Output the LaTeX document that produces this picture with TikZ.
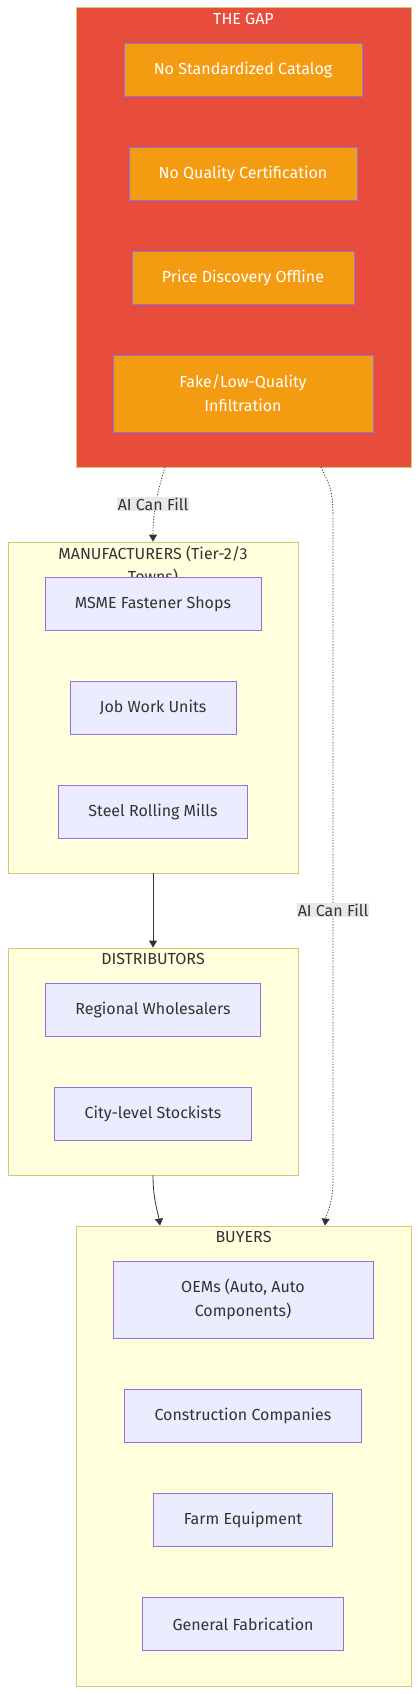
\documentclass[tikz,border=0pt]{standalone}
\usepackage{fontspec}
\setmainfont{Fira Sans}
\usetikzlibrary{arrows.meta}

\definecolor{gapred}{HTML}{E74C3C}
\definecolor{gaporange}{HTML}{F39C12}
\definecolor{clusterfill}{HTML}{FFFFDE}
\definecolor{clusterline}{HTML}{CFCB6E}
\definecolor{boxfill}{HTML}{ECECFF}
\definecolor{boxline}{HTML}{9370DB}
\definecolor{textgray}{HTML}{333333}
\definecolor{labelbg}{HTML}{E8E8E8}

\tikzset{
    cluster/.style={draw=clusterline, line width=0.8pt, fill=clusterfill, inner sep=0pt},
    clustertitle/.style={text=textgray, font=\fontsize{16}{23}\selectfont, align=center},
    item/.style={draw=boxline, line width=0.8pt, fill=boxfill, text=textgray,
        font=\fontsize{16}{24}\selectfont, align=center, minimum height=53pt, inner sep=0pt},
    gapitem/.style={item, fill=gaporange, text=white},
    flow/.style={draw=textgray, line width=0.8pt, -{Triangle[length=7pt,width=8pt]}},
    dots/.style={dash pattern=on 1.2pt off 1.6pt},
    fill label/.style={fill=labelbg, text=textgray, font=\fontsize{16}{18}\selectfont,
        inner sep=1pt}
}

\begin{document}
\begin{tikzpicture}[x=1pt, y=-1pt]

    \useasboundingbox (0, 0) rectangle (419, 1694);

    % Draw the four groups
    \node[cluster, fill=gapred, minimum width=335pt, minimum height=460pt] (gap) at (243.5, 237) {};
    \node[cluster, minimum width=290pt, minimum height=331pt] (mfr) at (153, 707.5) {};
    \node[cluster, minimum width=290pt, minimum height=227pt] (dist) at (153, 1061.5) {};
    \node[cluster, minimum width=335pt, minimum height=460pt] (buy) at (243.5, 1456) {};

    % Group titles
    \node[clustertitle, text=white] (gaptitle) at (243.5, 19) {THE GAP};
    \node[clustertitle] (mfrtitle) at (153, 565) {MANUFACTURERS (Tier-2/3\\Towns)};
    \node[clustertitle] (disttitle) at (153, 959) {DISTRIBUTORS};
    \node[clustertitle] (buytitle) at (243.5, 1237) {BUYERS};

    % Items of the gap
    \node[gapitem, minimum width=238pt] (catalog) at (243, 69.5) {No Standardized Catalog};
    \node[gapitem, minimum width=228pt] (cert) at (243, 173.5) {No Quality Certification};
    \node[gapitem, minimum width=222pt] (price) at (243, 277.5) {Price Discovery Offline};
    \node[gapitem, minimum width=260pt, minimum height=77pt] (fake) at (243, 393.5) {Fake/Low-Quality\\Infiltration};

    % Items of the manufacturers
    \node[item, minimum width=216pt] (msme) at (153, 604) {MSME Fastener Shops};
    \node[item, minimum width=166pt] (jobwork) at (153, 707.5) {Job Work Units};
    \node[item, minimum width=189pt] (rolling) at (153, 811.5) {Steel Rolling Mills};

    % Items of the distributors
    \node[item, minimum width=215pt] (wholesale) at (153, 1009.5) {Regional Wholesalers};
    \node[item, minimum width=197pt] (stockist) at (153, 1114) {City-level Stockists};

    % Items of the buyers
    \node[item, minimum width=260pt, minimum height=77pt] (oem) at (243, 1299.5) {OEMs (Auto, Auto\\Components)};
    \node[item, minimum width=237pt] (construct) at (243, 1416) {Construction Companies};
    \node[item, minimum width=179pt] (farm) at (243, 1520) {Farm Equipment};
    \node[item, minimum width=201pt] (fab) at (243, 1624) {General Fabrication};

    % Connectors between the groups
    \coordinate (gapleft) at (165, 467);
    \coordinate (gapright) at (321, 467);
    \draw[flow, dots] (gapleft) .. controls (158, 490) and (153, 510) .. (mfr.north);
    \draw[flow, dots] (gapright) .. controls (333, 492) .. (333, 535)
        -- (333, 1180) .. controls (333, 1205) and (326, 1215) .. (buy.north -| 325, 0);
    \draw[flow] (mfr.south) -- (dist.north);
    \draw[flow] (dist.south) .. controls (153, 1200) and (158, 1212) .. (buy.north -| 160, 0);

    % Labels on the dotted connectors
    \node[fill label] (fillleft) at (153, 504) {AI Can Fill};
    \node[fill label] (fillright) at (333, 910) {AI Can Fill};

\end{tikzpicture}
\end{document}
